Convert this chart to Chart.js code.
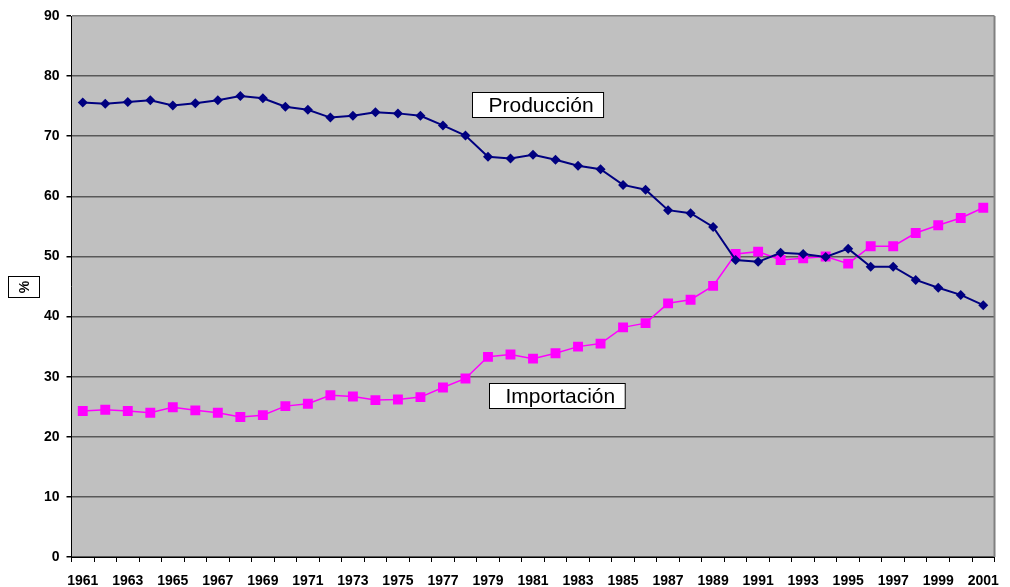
<!DOCTYPE html>
<html>
<head>
<meta charset="utf-8">
<script src="https://cdn.jsdelivr.net/npm/chart.js@4.4.1/dist/chart.umd.min.js"></script>
<style>
  body { margin: 0; background: #fff; }
  canvas { display: block; }
</style>
</head>
<body>
<canvas id="chart" width="1010" height="587"></canvas>
<script>
var years = ['1961', '1962', '1963', '1964', '1965', '1966', '1967', '1968', '1969', '1970',
    '1971', '1972', '1973', '1974', '1975', '1976', '1977', '1978', '1979', '1980',
    '1981', '1982', '1983', '1984', '1985', '1986', '1987', '1988', '1989', '1990',
    '1991', '1992', '1993', '1994', '1995', '1996', '1997', '1998', '1999', '2000', '2001']

var produccion = [75.6, 75.4, 75.7, 76.0, 75.1, 75.5, 76.0, 76.7, 76.3, 74.9,
    74.4, 73.1, 73.4, 74.0, 73.8, 73.4, 71.8, 70.1, 66.6, 66.3,
    66.9, 66.1, 65.1, 64.5, 61.9, 61.1, 57.7, 57.2, 54.9, 49.4,
    49.1, 50.6, 50.4, 49.9, 51.3, 48.3, 48.3, 46.1, 44.8, 43.6, 41.9]

var importacion = [24.3, 24.5, 24.3, 24.0, 24.9, 24.4, 24.0, 23.3, 23.6, 25.1,
    25.5, 26.9, 26.7, 26.1, 26.2, 26.6, 28.2, 29.7, 33.3, 33.7,
    33.0, 33.9, 35.0, 35.5, 38.2, 38.9, 42.2, 42.8, 45.1, 50.4,
    50.8, 49.4, 49.7, 50.0, 48.8, 51.7, 51.7, 53.9, 55.2, 56.4, 58.1]

var yTicks = [0, 10, 20, 30, 40, 50, 60, 70, 80, 90]

// text boxes inside the plot (x = category index, y = value of the box centre)
var notes = [
    { text: 'Producción', x: 20.19, y: 75.3 },
    { text: 'Importación', x: 21.05, y: 26.9 }
]

var axisFont = { family: '"Liberation Sans", Arial, sans-serif', size: 14, weight: 'bold' }

var frame = {
    id: 'frame',
    beforeDraw: function (chart) {
        var a = chart.chartArea
        var c = chart.ctx
        c.save()
        c.fillStyle = '#c0c0c0'
        c.fillRect(a.left, a.top, a.right - a.left, a.bottom - a.top)
        c.restore()
    },
    afterDraw: function (chart) {
        var a = chart.chartArea
        var c = chart.ctx
        var xs = chart.scales.x
        var ys = chart.scales.y
        c.save()
        // right border
        c.strokeStyle = '#808080'
        c.lineWidth = 2
        c.beginPath()
        c.moveTo(a.right, a.top)
        c.lineTo(a.right, a.bottom)
        c.stroke()

        // text boxes
        c.font = '21px "Liberation Sans", Arial, sans-serif'
        c.textBaseline = 'middle'
        notes.forEach(function (n) {
            var w = c.measureText(n.text).width + 26
            var h = 25
            var cx = xs.getPixelForValue(n.x)
            var cy = ys.getPixelForValue(n.y)
            var left = Math.round(cx - w / 2) + 0.5
            var top = Math.round(cy - h / 2) + 0.5
            c.fillStyle = '#fff'
            c.fillRect(left, top, w, h)
            c.strokeStyle = '#000'
            c.lineWidth = 1
            c.strokeRect(left, top, w, h)
            c.fillStyle = '#000'
            c.fillText(n.text, left + 16, top + h / 2 + 1)
        })

        // axis title "%"
        c.fillStyle = '#fff'
        c.fillRect(8.5, 276.5, 31, 21)
        c.strokeStyle = '#000'
        c.strokeRect(8.5, 276.5, 31, 21)
        c.translate(24, 287)
        c.rotate(-Math.PI / 2)
        c.font = 'bold 14px "Liberation Sans", Arial, sans-serif'
        c.textAlign = 'center'
        c.textBaseline = 'middle'
        c.fillStyle = '#000'
        c.fillText('%', 0, 1)
        c.restore()
    }
}

var chart = new Chart(document.getElementById('chart'), {
    type: 'line',
    data: {
        labels: years,
        datasets: [
            {
                label: 'Producción',
                data: produccion,
                borderColor: '#000080',
                backgroundColor: '#000080',
                borderWidth: 2,
                pointStyle: 'rectRot',
                pointRadius: 5,
                pointBorderWidth: 0,
                tension: 0
            },
            {
                label: 'Importación',
                data: importacion,
                borderColor: '#ff00ff',
                backgroundColor: '#ff00ff',
                borderWidth: 1.5,
                pointStyle: 'rect',
                pointRadius: 7,
                pointBorderWidth: 0,
                tension: 0
            }
        ]
    },
    options: {
        responsive: false,
        animation: false,
        devicePixelRatio: 1,
        layout: { padding: { top: 16, right: 14, left: 0, bottom: 0 } },
        plugins: {
            legend: { display: false },
            tooltip: { enabled: false }
        },
        scales: {
            x: {
                offset: true,
                afterFit: function (s) { s.height = 30 },
                grid: {
                    offset: true,
                    drawOnChartArea: false,
                    drawTicks: true,
                    tickLength: 5,
                    tickColor: '#000'
                },
                border: { color: '#000', width: 1 },
                ticks: {
                    autoSkip: false,
                    maxRotation: 0,
                    padding: 11,
                    color: '#000',
                    font: axisFont,
                    callback: function (v, i) { return i % 2 === 0 ? years[i] : '' }
                }
            },
            y: {
                min: 0,
                max: 90,
                afterFit: function (s) { s.width = 71.5 },
                afterBuildTicks: function (s) {
                    s.ticks = yTicks.map(function (v) { return { value: v } })
                },
                grid: {
                    color: function (ctx) {
                        if (ctx.tick && ctx.tick.value === 90) return '#808080'
                        return '#585858'
                    },
                    lineWidth: 1.5,
                    tickLength: 5,
                    tickColor: '#000'
                },
                border: { color: '#000', width: 1 },
                ticks: {
                    padding: 7,
                    color: '#000',
                    font: axisFont
                }
            }
        }
    },
    plugins: [frame]
})
</script>
</body>
</html>
